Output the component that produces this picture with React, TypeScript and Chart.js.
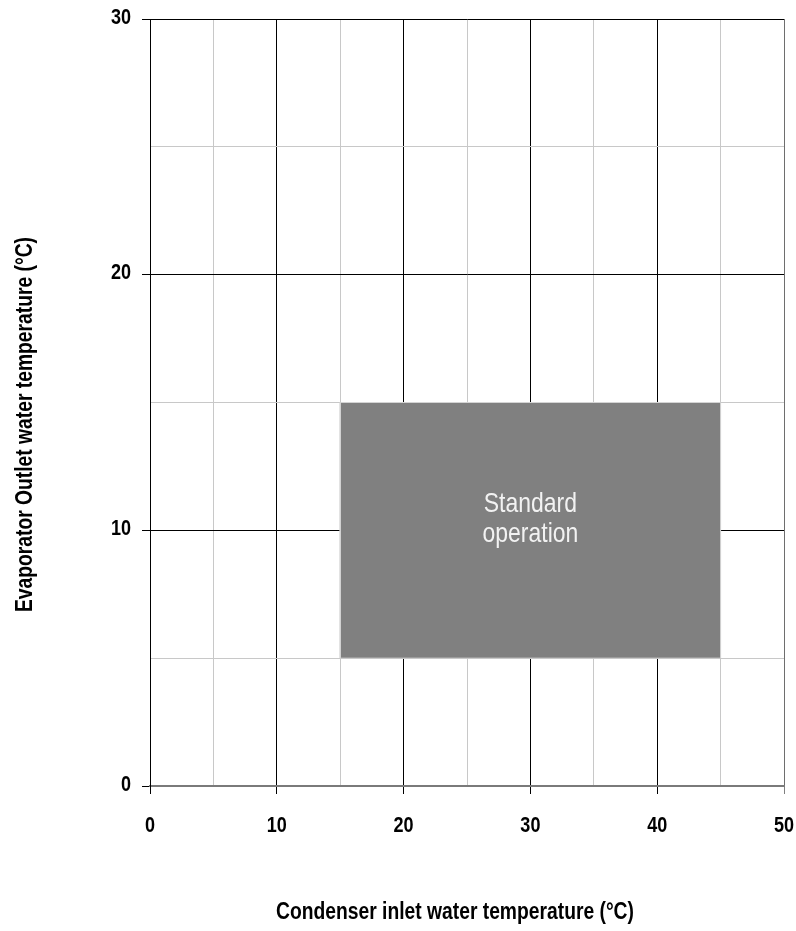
import React, { useEffect, useRef } from "react";
import { Chart, registerables } from "chart.js";

Chart.register(...registerables);

// ---- data ----
const regionX = [15, 45, 45, 15, 15];
const regionY = [5, 5, 15, 15, 5];
const regionLabelLines = ["Standard", "operation"];
const regionLabelAt = [30, 10];
const xTickLabels = [0, 10, 20, 30, 40, 50];
const yTickLabels = [0, 10, 20, 30];
const xTitle = "Condenser inlet water temperature (°C)";
const yTitle = "Evaporator Outlet water temperature (°C)";

const FONT = "'Liberation Sans', Arial, sans-serif";
const NARROW = 0.82;

function narrowText(ctx: any, text: string, x: number, y: number, align: string, font: string, rotate = false) {
  ctx.save();
  ctx.translate(x, y);
  if (rotate) ctx.rotate(-Math.PI / 2);
  ctx.scale(NARROW, 1);
  ctx.font = font;
  ctx.textAlign = align;
  ctx.textBaseline = "alphabetic";
  ctx.fillText(text, 0, 0);
  ctx.restore();
}

const textPlugin = {
  id: "customText",
  afterDatasetsDraw(chart: any) {
    const { ctx, scales } = chart;
    const cx = scales.x.getPixelForValue(regionLabelAt[0]);
    const cy = scales.y.getPixelForValue(regionLabelAt[1]);
    ctx.save();
    ctx.fillStyle = "#f2f2f2";
    const f = `28px ${FONT}`;
    narrowText(ctx, regionLabelLines[0], cx, cy - 18.6, "center", f);
    narrowText(ctx, regionLabelLines[1], cx, cy + 11.4, "center", f);
    ctx.restore();
  },
  afterDraw(chart: any) {
    const { ctx, chartArea, scales } = chart;
    ctx.save();
    ctx.fillStyle = "#000";
    const tickFont = `bold 22px ${FONT}`;
    xTickLabels.forEach((v) => {
      narrowText(ctx, String(v), scales.x.getPixelForValue(v), chartArea.bottom + 46, "center", tickFont);
    });
    yTickLabels.forEach((v) => {
      narrowText(ctx, String(v), chartArea.left - 19, scales.y.getPixelForValue(v) + 4.7, "right", tickFont);
    });
    const titleFont = `bold 23.5px ${FONT}`;
    const midX = (chartArea.left + chartArea.right) / 2;
    narrowText(ctx, xTitle, midX - 12, chartArea.bottom + 133, "center", titleFont);
    const midY = (chartArea.top + chartArea.bottom) / 2;
    narrowText(ctx, yTitle, 32, midY + 22, "center", titleFont, true);
    ctx.restore();
  },
};

export default function App() {
  const ref = useRef<HTMLCanvasElement | null>(null);
  useEffect(() => {
    document.body.style.margin = "0";
    if (!ref.current) return;
    const chart = new Chart(ref.current, {
      type: "scatter",
      data: {
        datasets: [
          {
            data: regionX.map((x, i) => ({ x, y: regionY[i] })),
            showLine: true,
            fill: "shape",
            backgroundColor: "#808080",
            borderColor: "#d4d4d4",
            borderWidth: 1,
            pointRadius: 0,
            tension: 0,
          } as any,
        ],
      },
      options: {
        responsive: false,
        animation: false,
        devicePixelRatio: 1,
        layout: { padding: { left: 0, top: 19, right: 12, bottom: 0 } },
        plugins: {
          legend: { display: false },
          tooltip: { enabled: false },
        },
        scales: {
          x: {
            type: "linear",
            min: 0,
            max: 50,
            afterFit: (s: any) => {
              s.height = 145;
            },
            ticks: { stepSize: 5, autoSkip: false, display: false },
            grid: {
              tickLength: 8,
              color: (c: any) => {
                const v = c.tick?.value;
                if (v === 50) return "#6e6e6e";
                if (v % 10 === 0) return "#000";
                return "#c8c8c8";
              },
              tickColor: (c: any) => {
                const v = c.tick?.value;
                if (v === 50) return "#808080";
                if (v % 10 === 0) return "#000";
                return "rgba(0,0,0,0)";
              },
            },
            border: { color: "#7a7a7a", width: 2 },
          },
          y: {
            type: "linear",
            min: 0,
            max: 30,
            afterFit: (s: any) => {
              s.width = 150;
            },
            ticks: { stepSize: 5, autoSkip: false, display: false },
            grid: {
              tickLength: 8,
              color: (c: any) => {
                const v = c.tick?.value;
                if (v === 0) return "#7a7a7a";
                if (v % 10 === 0) return "#000";
                return "#c8c8c8";
              },
              tickColor: (c: any) => {
                const v = c.tick?.value;
                if (v % 10 === 0) return "#000";
                return "rgba(0,0,0,0)";
              },
            },
            border: { color: "#000", width: 1 },
          },
        },
      },
      plugins: [textPlugin],
    });
    return () => chart.destroy();
  }, []);
  return (
    <div style={{ width: 796, height: 931, background: "#fff" }}>
      <canvas ref={ref} width={796} height={931} />
    </div>
  );
}
